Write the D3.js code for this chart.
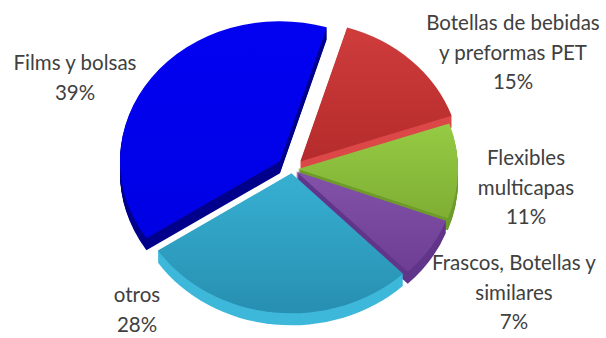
<!DOCTYPE html>
<html>
<head>
<meta charset="utf-8">
<script src="https://cdn.jsdelivr.net/npm/d3@7"></script>
<style>
  html, body { margin: 0; padding: 0; background: #ffffff; }
  text { font-family: Lato, "Open Sans", sans-serif; fill: #404040; }
</style>
</head>
<body>
<svg id="chart" width="606" height="338"></svg>
<script>
// Composition of plastic packaging waste (share, %)
const categories = [
  "Botellas de bebidas y preformas PET",
  "Flexibles multicapas",
  "Frascos, Botellas y similares",
  "otros",
  "Films y bolsas"
];
const labelLines = [
  ["Botellas de bebidas", "y preformas PET"],
  ["Flexibles", "multicapas"],
  ["Frascos, Botellas y", "similares"],
  ["otros"],
  ["Films y bolsas"]
];
const shares = [15, 11, 7, 28, 39];

// Styling per slice: top face gradient (light, dark) and extruded side colour
const topLight = ["#cf3c3c", "#96cb44", "#8352aa", "#37b0d2", "#0202f2"];
const topDark  = ["#b52b2b", "#7eae33", "#6d3e93", "#278fb1", "#0000e4"];
const sideFill = ["#dc4848", "#6f9b2b", "#61358a", "#3eb8da", "#00008c"];
const explode  = [12, 6, 5, 5, 15];

// Layout of the tilted pie
const W = 606, H = 338;
const cx = 292, cy = 169;
const radius = 160, tilt = 0.875, depth = 12;
const startDeg = 17;

// Label anchors: centre x, first baseline y
const labelAnchor = [[513, 30], [526, 165], [514, 270], [137, 302], [75, 70]];
const lineGap = 29.5;

const svg = d3.select("#chart");

const pie = d3.pie().sort(null).value(d => d)
  .startAngle(startDeg * Math.PI / 180)
  .endAngle(startDeg * Math.PI / 180 + 2 * Math.PI);
const arcs = pie(shares);
const arc = d3.arc().innerRadius(0).outerRadius(radius);

const defs = svg.append("defs");
arcs.forEach((a, i) => {
  const g = defs.append("linearGradient")
    .attr("id", "top" + i).attr("x1", 0).attr("y1", 0).attr("x2", 0).attr("y2", 1);
  g.append("stop").attr("offset", "0%").attr("stop-color", topLight[i]);
  g.append("stop").attr("offset", "100%").attr("stop-color", topDark[i]);
});

// Draw back slices first so front slices overlap the sides behind them
const order = d3.range(arcs.length).sort((a, b) => {
  const ma = (arcs[a].startAngle + arcs[a].endAngle) / 2;
  const mb = (arcs[b].startAngle + arcs[b].endAngle) / 2;
  return -Math.cos(ma) - -Math.cos(mb);
});

const pieLayer = svg.append("g");
order.forEach(i => {
  const a = arcs[i];
  const mid = (a.startAngle + a.endAngle) / 2;
  const ox = Math.sin(mid) * explode[i];
  const oy = -Math.cos(mid) * explode[i] * tilt;
  const slice = pieLayer.append("g");
  // extruded side: stacked copies shifted downward
  for (let k = depth; k >= 1; k--) {
    slice.append("g")
      .attr("transform", `translate(${cx + ox},${cy + oy + k}) scale(1,${tilt})`)
      .append("path").attr("d", arc(a)).attr("fill", sideFill[i]);
  }
  slice.append("g")
    .attr("transform", `translate(${cx + ox},${cy + oy}) scale(1,${tilt})`)
    .append("path").attr("d", arc(a)).attr("fill", `url(#top${i})`);
});

// Category labels with percentage
const labels = svg.append("g").attr("font-size", 20.5).attr("text-anchor", "middle");
arcs.forEach((a, i) => {
  const [lx, ly] = labelAnchor[i];
  const lines = labelLines[i].concat([d3.format(".0%")(shares[i] / 100)]);
  const t = labels.append("text").attr("x", lx).attr("y", ly);
  lines.forEach((s, j) => {
    t.append("tspan").attr("x", lx).attr("y", ly + j * lineGap).text(s);
  });
});
</script>
</body>
</html>
